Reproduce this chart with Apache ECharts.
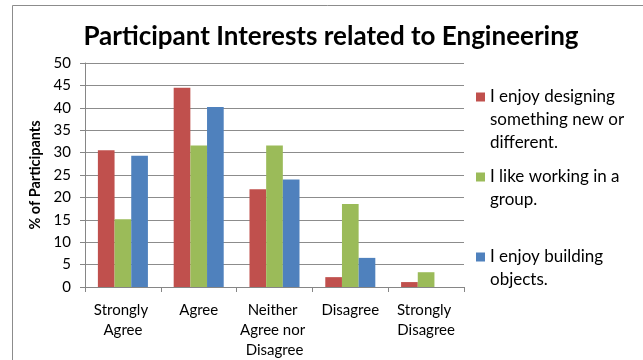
<!DOCTYPE html>
<html>
<head>
<meta charset="utf-8">
<script src="https://cdn.jsdelivr.net/npm/echarts@6/dist/echarts.min.js"></script>
<style>
html,body{margin:0;padding:0;background:#fff;}
#chart{width:643px;height:360px;}
</style>
</head>
<body>
<div id="chart"></div>
<script>
const titleText = 'Participant Interests related to Engineering';
const yAxisName = '% of Participants';
const categories = ['Strongly Agree', 'Agree', 'Neither Agree nor Disagree', 'Disagree', 'Strongly Disagree'];
const seriesNames = [
  'I enjoy designing\nsomething new or\ndifferent.',
  'I like working in a\ngroup.',
  'I enjoy building\nobjects.'
];
const designing = [30.5, 44.5, 21.8, 2.2, 1.1];
const group = [15.1, 31.6, 31.6, 18.5, 3.3];
const building = [29.3, 40.2, 24.0, 6.5, 0];
const yTicks = [0, 5, 10, 15, 20, 25, 30, 35, 40, 45, 50];

const colors = ['#C0504D', '#9BBB59', '#4F81BD'];
const FONT = 'Lato';
const seriesData = [designing, group, building];

const LH = 23;
const firstLineY = [97, 177, 257];

const chart = echarts.init(document.getElementById('chart'));
chart.setOption({
  animation: false,
  backgroundColor: '#fff',
  textStyle: { fontFamily: FONT },
  color: colors,
  title: {
    text: titleText,
    left: 326, top: 19, textAlign: 'center',
    textStyle: { fontFamily: FONT, fontWeight: 'bold', fontSize: 26, color: '#000' }
  },
  graphic: [{
    type: 'polyline',
    shape: { points: [[12.5, 360], [12.5, 5.5], [643, 5.5]] },
    style: { stroke: '#8c8c8c', lineWidth: 1, fill: null },
    silent: true
  }],
  legend: seriesNames.map((n, i) => {
    const k = n.split('\n').length - 1;
    const total = 2 * k + 1;
    return {
      data: [n],
      orient: 'vertical',
      left: 476,
      top: firstLineY[i] - total * LH / 2,
      padding: 0,
      itemWidth: 9, itemHeight: 9, itemGap: 0,
      icon: 'rect',
      formatter: name => '\n'.repeat(k) + name,
      textStyle: { fontFamily: FONT, fontSize: 17, color: '#000', lineHeight: LH }
    };
  }),
  grid: { left: 85, right: 179, top: 63, bottom: 73 },
  xAxis: {
    type: 'category',
    data: categories,
    axisLine: { lineStyle: { color: '#868686' } },
    axisTick: { show: true, length: 5, lineStyle: { color: '#868686' } },
    axisLabel: {
      color: '#000', fontFamily: FONT, fontSize: 15, lineHeight: 20,
      margin: 13, width: 74, overflow: 'break', interval: 0
    }
  },
  yAxis: {
    type: 'value',
    min: yTicks[0], max: yTicks[yTicks.length - 1], interval: yTicks[1] - yTicks[0],
    name: yAxisName,
    nameLocation: 'middle', nameGap: 36,
    nameTextStyle: { fontFamily: FONT, fontWeight: 'bold', fontSize: 14.5, color: '#000' },
    axisLine: { show: true, lineStyle: { color: '#868686' } },
    axisTick: { show: true, length: 5, lineStyle: { color: '#868686' } },
    axisLabel: { color: '#000', fontFamily: FONT, fontSize: 15, margin: 14 },
    splitLine: { lineStyle: { color: '#8c8c8c' } }
  },
  series: seriesNames.map((n, i) => ({
    name: n,
    type: 'bar',
    data: seriesData[i],
    barGap: '0%',
    barCategoryGap: '34%',
    itemStyle: { color: colors[i] }
  }))
});
</script>
</body>
</html>
